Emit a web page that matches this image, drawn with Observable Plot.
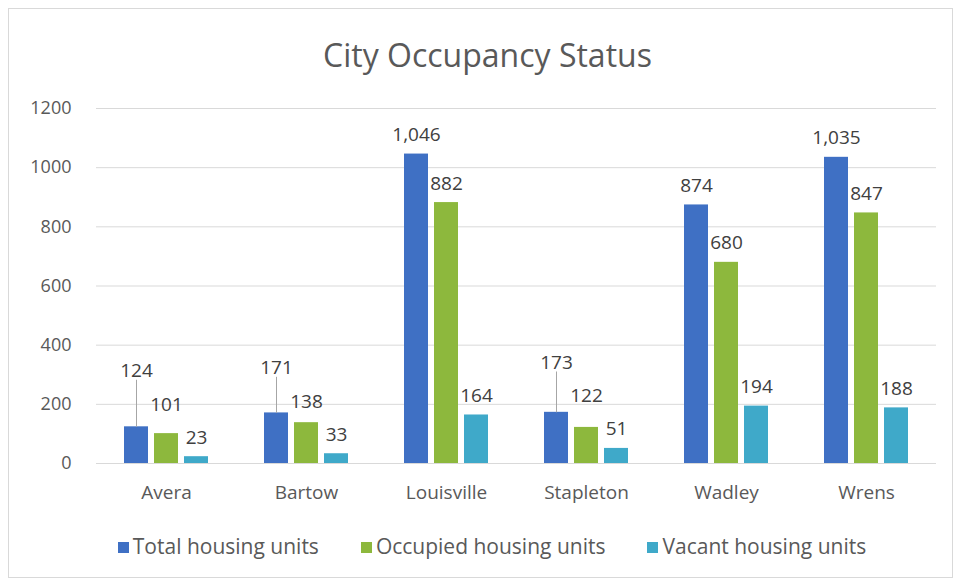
<!DOCTYPE html>
<html>
<head>
<meta charset="utf-8">
<script src="https://cdn.jsdelivr.net/npm/d3@7"></script>
<script src="https://cdn.jsdelivr.net/npm/@observablehq/plot@0.6"></script>
<style>
  html, body { margin: 0; padding: 0; background: #ffffff; }
  #frame { position: absolute; left: 8px; top: 8px; width: 945px; height: 570px; border: 1px solid #d9d9d9; box-sizing: border-box; background: #fff; }
  #title { position: absolute; left: 0; top: 34px; width: 975px; text-align: center; font-family: "Open Sans", sans-serif; font-size: 32px; color: #595959; line-height: 42px; }
  #chart { position: absolute; left: 0; top: 90px; }
  #legend { position: absolute; left: 0; top: 531px; width: 984px; text-align: center; font-family: "Open Sans", sans-serif; font-size: 21px; color: #595959; line-height: 30px; }
  .item { display: inline-block; margin: 0 21px; }
  .sw { display: inline-block; width: 11px; height: 11px; margin-right: 4px; vertical-align: 1px; }
</style>
</head>
<body>
<div id="frame"></div>
<div id="title">City Occupancy Status</div>
<div id="chart"></div>
<div id="legend"></div>
<script>
const cities = ["Avera", "Bartow", "Louisville", "Stapleton", "Wadley", "Wrens"];
const seriesNames = ["Total housing units", "Occupied housing units", "Vacant housing units"];
const totalUnits = [124, 171, 1046, 173, 874, 1035];
const occupiedUnits = [101, 138, 882, 122, 680, 847];
const vacantUnits = [23, 33, 164, 51, 194, 188];
const yTicks = [0, 200, 400, 600, 800, 1000, 1200];
const colors = ["#3f70c4", "#8db83d", "#3fa9c9"];

const seriesValues = [totalUnits, occupiedUnits, vacantUnits];
const rows = [];
cities.forEach((c, i) => {
  seriesNames.forEach((s, j) => rows.push({city: c, series: s, value: seriesValues[j][i]}));
});

// Simple label collision avoidance (like a "best fit" placement):
// working right to left within each city, lift a label above its right neighbour
// when the two would collide.
const minGap = 112; // in y units, roughly one label height plus spacing
const leaderThreshold = 50;
cities.forEach(c => {
  const group = rows.filter(r => r.city === c);
  let above = null;
  for (let k = group.length - 1; k >= 0; k--) {
    const r = group[k];
    let pos = r.value;
    if (above !== null && pos - above < minGap) pos = above + minGap;
    r.labelY = pos;
    above = pos;
  }
});
const leaders = rows.filter(r => r.labelY - r.value > leaderThreshold);

const fmt = d3.format(",");

const chart = Plot.plot({
  width: 955,
  height: 418,
  marginLeft: 95,
  marginRight: 18,
  marginTop: 18,
  marginBottom: 45,
  style: {fontFamily: "'Open Sans', sans-serif", fontSize: "18px", color: "#595959", background: "transparent"},
  fx: {domain: cities, padding: 0, label: null},
  x: {domain: seriesNames, paddingInner: 0.19, paddingOuter: 0.86, axis: null},
  y: {domain: [0, 1200], ticks: yTicks, label: null},
  color: {domain: seriesNames, range: colors},
  marks: [
    Plot.gridY(yTicks, {stroke: "#d9d9d9", strokeOpacity: 1, strokeWidth: 1}),
    Plot.axisY({ticks: yTicks, tickSize: 0, tickPadding: 25, label: null, fontSize: 18, tickFormat: d => String(d)}),
    Plot.axisFx({anchor: "bottom", tickSize: 0, tickPadding: 22, label: null, fontSize: 19}),
    Plot.barY(rows, {fx: "city", x: "series", y: "value", fill: "series"}),
    Plot.link(leaders, {fx: "city", x: "series", y1: "value", y2: d => d.labelY + 36, stroke: "#a6a6a6", strokeWidth: 1}),
    Plot.text(rows, {fx: "city", x: "series", y: "labelY", text: d => fmt(d.value), lineAnchor: "bottom", dy: -13, fontSize: 19, fill: "#404040"})
  ]
});
document.getElementById("chart").appendChild(chart);

const legend = document.getElementById("legend");
seriesNames.forEach((s, i) => {
  const item = document.createElement("span");
  item.className = "item";
  const sw = document.createElement("span");
  sw.className = "sw";
  sw.style.background = colors[i];
  item.appendChild(sw);
  item.appendChild(document.createTextNode(s));
  legend.appendChild(item);
});
</script>
</body>
</html>
